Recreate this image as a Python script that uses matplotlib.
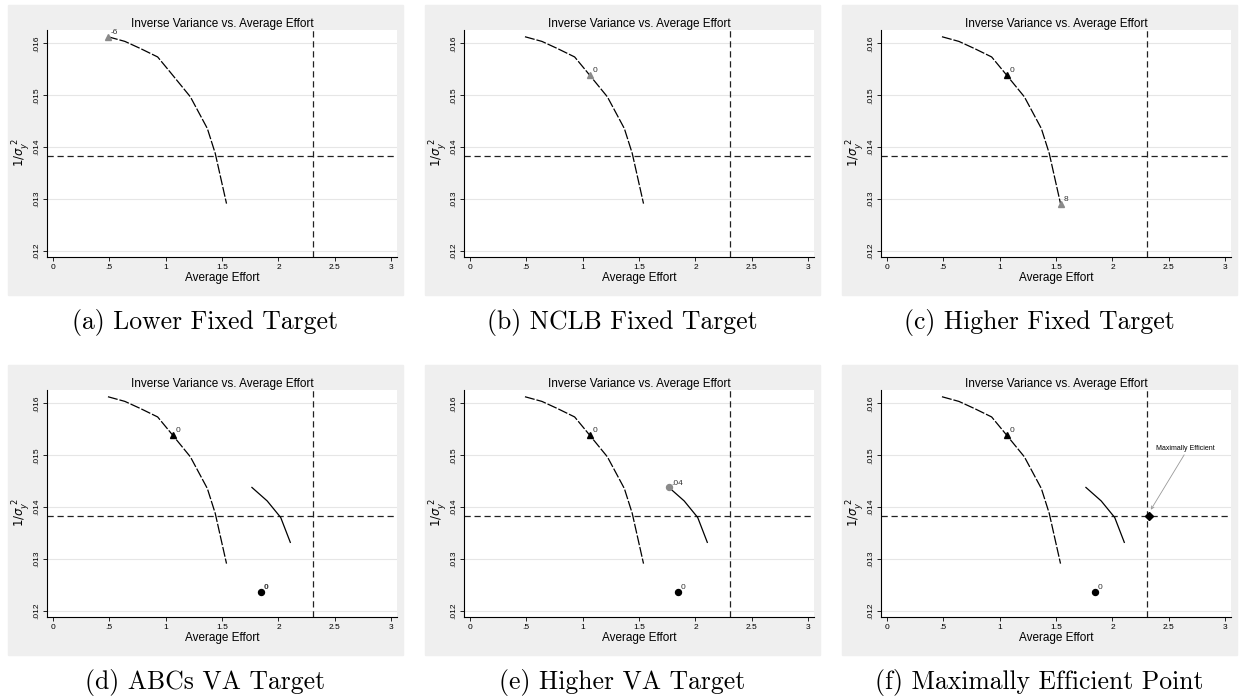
import matplotlib
matplotlib.use("Agg")
import matplotlib.pyplot as plt
from matplotlib.patches import Rectangle

# data
fixed_x = [0.49, 0.64, 0.78, 0.93, 1.04, 1.22, 1.37, 1.44, 1.54]
fixed_y = [0.01613, 0.01604, 0.01590, 0.01574, 0.01545, 0.01497, 0.01436, 0.01388, 0.01291]
va_x = [1.765, 1.90, 2.02, 2.105]
va_y = [0.01438, 0.01412, 0.01380, 0.01332]
target_y = 0.01383
target_x = 2.32
nclb_pt = (1.068, 0.01539)
abc_pt = (1.845, 0.01237)

captions = ["(a) Lower Fixed Target", "(b) NCLB Fixed Target", "(c) Higher Fixed Target",
            "(d) ABCs VA Target", "(e) Higher VA Target", "(f) Maximally Efficient Point"]
xticks = [0, 0.5, 1, 1.5, 2, 2.5, 3]
xticklabels = ["0", ".5", "1", "1.5", "2", "2.5", "3"]
yticks = [0.012, 0.013, 0.014, 0.015, 0.016]
yticklabels = [".012", ".013", ".014", ".015", ".016"]

W, H = 1243, 696
fig = plt.figure(figsize=(W / 100, H / 100), dpi=100)
plt.rcParams['font.family'] = ['Liberation Sans', 'DejaVu Sans']

panel_x = [8, 425, 842]
panel_y = [5, 365]
pw, ph = 395, 290
gray = '#efefef'
mk_gray = '#8a8a8a'


def lab(ax, x, y, s, bold=False):
    ax.annotate(s, (x, y), xytext=(2, 2), textcoords='offset points', fontsize=6,
                fontweight='bold' if bold else 'normal', color='#333333')


axes = []
for r in range(2):
    for c in range(3):
        px, py = panel_x[c], panel_y[r]
        fig.patches.append(Rectangle((px / W, 1 - (py + ph) / H), pw / W, ph / H,
                                     transform=fig.transFigure, color=gray, zorder=-10))
        ax = fig.add_axes([(px + 39) / W, 1 - (py + 252) / H, 350 / W, 227 / H])
        ax.set_facecolor('white')
        ax.set_xlim(-0.05, 3.05)
        ax.set_ylim(0.01188, 0.01626)
        ax.set_xticks(xticks)
        ax.set_xticklabels(xticklabels, fontsize=6)
        ax.set_yticks(yticks)
        ax.set_yticklabels(yticklabels, fontsize=6, rotation=90, va='center')
        ax.tick_params(length=3, width=0.6, pad=2)
        for s in ['top', 'right']:
            ax.spines[s].set_visible(False)
        for s in ['left', 'bottom']:
            ax.spines[s].set_linewidth(0.8)
        ax.grid(axis='y', color='#e6e6e6', linewidth=0.8)
        ax.set_axisbelow(True)
        ax.set_title("Inverse Variance vs. Average Effort", fontsize=8.5, pad=2)
        ax.set_xlabel("Average Effort", fontsize=8.5, labelpad=1)
        ax.set_ylabel(r"$1/\sigma_y^{\ 2}$", fontsize=8.5)
        ax.yaxis.set_label_coords(-0.042, 0.46)
        ax.axhline(target_y, color='#222222', linewidth=0.9, linestyle=(0, (5, 3)))
        ax.axvline(2.31, color='#222222', linewidth=0.9, linestyle=(0, (5, 3)))
        ax.plot(fixed_x, fixed_y, color='black', linewidth=0.9, linestyle=(0, (8, 1.5)))
        fig.text((px + pw / 2) / W, 1 - (py + ph + 28) / H, captions[r * 3 + c],
                 fontsize=18.5, family=['cmr10', 'DejaVu Serif'], ha='center', va='center')
        axes.append(ax)

a, b, c, d, e, f = axes
ms = 4.3

a.plot(fixed_x[0], fixed_y[0], marker='^', color=mk_gray, markersize=ms)
lab(a, fixed_x[0], fixed_y[0], "-6")

b.plot(*nclb_pt, marker='^', color=mk_gray, markersize=ms)
lab(b, *nclb_pt, "0")

c.plot(*nclb_pt, marker='^', color='black', markersize=ms)
lab(c, *nclb_pt, "0")
c.plot(fixed_x[-1], fixed_y[-1], marker='^', color=mk_gray, markersize=ms)
lab(c, fixed_x[-1], fixed_y[-1], "8")

for ax in (d, e, f):
    ax.plot(va_x, va_y, color='black', linewidth=0.9)
    ax.plot(*nclb_pt, marker='^', color='black', markersize=ms)
    lab(ax, *nclb_pt, "0")
    ax.plot(*abc_pt, marker='o', color='black', markersize=ms)

lab(d, *abc_pt, "0", bold=True)
lab(e, *abc_pt, "0")
lab(f, *abc_pt, "0")

e.plot(va_x[0], va_y[0], marker='o', color=mk_gray, markersize=ms)
lab(e, va_x[0], va_y[0], ".04")

f.plot(target_x, target_y, marker='D', color='black', markersize=4)
f.annotate("Maximally Efficient", xy=(target_x + 0.02, target_y + 0.00012),
           xytext=(2.39, 0.01513), fontsize=5, va='center',
           arrowprops=dict(arrowstyle='->', color='#999999', linewidth=0.6,
                           shrinkA=0, shrinkB=0, relpos=(0.5, 0)))

fig.savefig("out.png", dpi=100)
